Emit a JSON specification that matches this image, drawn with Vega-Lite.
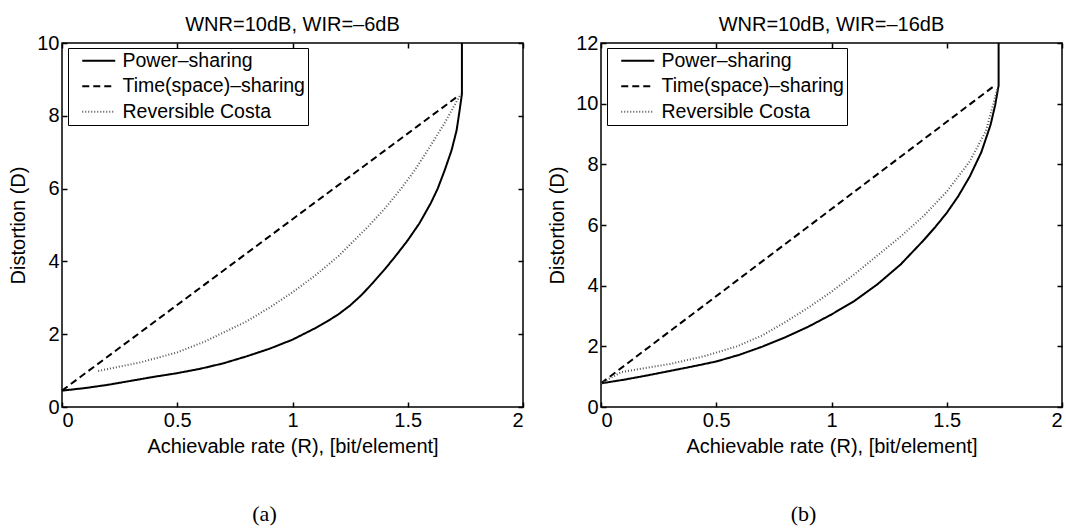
{
  "$schema": "https://vega.github.io/schema/vega-lite/v6.json",
  "background": "white",
  "padding": {"left": 8, "top": 14, "right": 4, "bottom": 4},
  "datasets": {
    "a": [
      {"s": "Power–sharing", "i": 0, "R": 0, "D": 0.45},
      {"s": "Power–sharing", "i": 1, "R": 0.1, "D": 0.52},
      {"s": "Power–sharing", "i": 2, "R": 0.2, "D": 0.61},
      {"s": "Power–sharing", "i": 3, "R": 0.3, "D": 0.72},
      {"s": "Power–sharing", "i": 4, "R": 0.4, "D": 0.83},
      {"s": "Power–sharing", "i": 5, "R": 0.5, "D": 0.93},
      {"s": "Power–sharing", "i": 6, "R": 0.6, "D": 1.05},
      {"s": "Power–sharing", "i": 7, "R": 0.7, "D": 1.2},
      {"s": "Power–sharing", "i": 8, "R": 0.8, "D": 1.39},
      {"s": "Power–sharing", "i": 9, "R": 0.9, "D": 1.6},
      {"s": "Power–sharing", "i": 10, "R": 1.0, "D": 1.85},
      {"s": "Power–sharing", "i": 11, "R": 1.1, "D": 2.17},
      {"s": "Power–sharing", "i": 12, "R": 1.15, "D": 2.35},
      {"s": "Power–sharing", "i": 13, "R": 1.2, "D": 2.55},
      {"s": "Power–sharing", "i": 14, "R": 1.25, "D": 2.79},
      {"s": "Power–sharing", "i": 15, "R": 1.3, "D": 3.08},
      {"s": "Power–sharing", "i": 16, "R": 1.35, "D": 3.42},
      {"s": "Power–sharing", "i": 17, "R": 1.4, "D": 3.78},
      {"s": "Power–sharing", "i": 18, "R": 1.45, "D": 4.17},
      {"s": "Power–sharing", "i": 19, "R": 1.5, "D": 4.58},
      {"s": "Power–sharing", "i": 20, "R": 1.55, "D": 5.04},
      {"s": "Power–sharing", "i": 21, "R": 1.6, "D": 5.6},
      {"s": "Power–sharing", "i": 22, "R": 1.63, "D": 6.0},
      {"s": "Power–sharing", "i": 23, "R": 1.66, "D": 6.5},
      {"s": "Power–sharing", "i": 24, "R": 1.69, "D": 7.05},
      {"s": "Power–sharing", "i": 25, "R": 1.712, "D": 7.6},
      {"s": "Power–sharing", "i": 26, "R": 1.725, "D": 8.15},
      {"s": "Power–sharing", "i": 27, "R": 1.735, "D": 8.6},
      {"s": "Power–sharing", "i": 28, "R": 1.735, "D": 10},
      {"s": "Time(space)–sharing", "i": 0, "R": 0, "D": 0.45},
      {"s": "Time(space)–sharing", "i": 1, "R": 1.72, "D": 8.55},
      {"s": "Reversible Costa", "i": 0, "R": 0.157, "D": 0.99},
      {"s": "Reversible Costa", "i": 1, "R": 0.343, "D": 1.23},
      {"s": "Reversible Costa", "i": 2, "R": 0.5, "D": 1.5},
      {"s": "Reversible Costa", "i": 3, "R": 0.62, "D": 1.8},
      {"s": "Reversible Costa", "i": 4, "R": 0.8, "D": 2.35},
      {"s": "Reversible Costa", "i": 5, "R": 0.9, "D": 2.73},
      {"s": "Reversible Costa", "i": 6, "R": 1.0, "D": 3.15},
      {"s": "Reversible Costa", "i": 7, "R": 1.1, "D": 3.62},
      {"s": "Reversible Costa", "i": 8, "R": 1.2, "D": 4.15},
      {"s": "Reversible Costa", "i": 9, "R": 1.33, "D": 4.97},
      {"s": "Reversible Costa", "i": 10, "R": 1.4, "D": 5.45},
      {"s": "Reversible Costa", "i": 11, "R": 1.47, "D": 5.99},
      {"s": "Reversible Costa", "i": 12, "R": 1.53, "D": 6.5},
      {"s": "Reversible Costa", "i": 13, "R": 1.59, "D": 7.09},
      {"s": "Reversible Costa", "i": 14, "R": 1.66, "D": 7.8},
      {"s": "Reversible Costa", "i": 15, "R": 1.73, "D": 8.6}
    ],
    "b": [
      {"s": "Power–sharing", "i": 0, "R": 0, "D": 0.78},
      {"s": "Power–sharing", "i": 1, "R": 0.1, "D": 0.9},
      {"s": "Power–sharing", "i": 2, "R": 0.2, "D": 1.04},
      {"s": "Power–sharing", "i": 3, "R": 0.3, "D": 1.19},
      {"s": "Power–sharing", "i": 4, "R": 0.4, "D": 1.34},
      {"s": "Power–sharing", "i": 5, "R": 0.5, "D": 1.5},
      {"s": "Power–sharing", "i": 6, "R": 0.6, "D": 1.72},
      {"s": "Power–sharing", "i": 7, "R": 0.7, "D": 1.99},
      {"s": "Power–sharing", "i": 8, "R": 0.8, "D": 2.3},
      {"s": "Power–sharing", "i": 9, "R": 0.9, "D": 2.65},
      {"s": "Power–sharing", "i": 10, "R": 1.0, "D": 3.05},
      {"s": "Power–sharing", "i": 11, "R": 1.1, "D": 3.5},
      {"s": "Power–sharing", "i": 12, "R": 1.2, "D": 4.05},
      {"s": "Power–sharing", "i": 13, "R": 1.3, "D": 4.7},
      {"s": "Power–sharing", "i": 14, "R": 1.4, "D": 5.5},
      {"s": "Power–sharing", "i": 15, "R": 1.45, "D": 5.93},
      {"s": "Power–sharing", "i": 16, "R": 1.5, "D": 6.4},
      {"s": "Power–sharing", "i": 17, "R": 1.55, "D": 6.95},
      {"s": "Power–sharing", "i": 18, "R": 1.6, "D": 7.6},
      {"s": "Power–sharing", "i": 19, "R": 1.65, "D": 8.4},
      {"s": "Power–sharing", "i": 20, "R": 1.69, "D": 9.3},
      {"s": "Power–sharing", "i": 21, "R": 1.71, "D": 9.95},
      {"s": "Power–sharing", "i": 22, "R": 1.725, "D": 10.6},
      {"s": "Power–sharing", "i": 23, "R": 1.725, "D": 12},
      {"s": "Time(space)–sharing", "i": 0, "R": 0, "D": 0.78},
      {"s": "Time(space)–sharing", "i": 1, "R": 1.705, "D": 10.58},
      {"s": "Reversible Costa", "i": 0, "R": 0, "D": 0.78},
      {"s": "Reversible Costa", "i": 1, "R": 0.087, "D": 1.15},
      {"s": "Reversible Costa", "i": 2, "R": 0.3, "D": 1.42},
      {"s": "Reversible Costa", "i": 3, "R": 0.45, "D": 1.68},
      {"s": "Reversible Costa", "i": 4, "R": 0.59, "D": 2.0},
      {"s": "Reversible Costa", "i": 5, "R": 0.7, "D": 2.36},
      {"s": "Reversible Costa", "i": 6, "R": 0.8, "D": 2.8},
      {"s": "Reversible Costa", "i": 7, "R": 0.9, "D": 3.28},
      {"s": "Reversible Costa", "i": 8, "R": 1.0, "D": 3.8},
      {"s": "Reversible Costa", "i": 9, "R": 1.1, "D": 4.38},
      {"s": "Reversible Costa", "i": 10, "R": 1.2, "D": 5.0},
      {"s": "Reversible Costa", "i": 11, "R": 1.3, "D": 5.62},
      {"s": "Reversible Costa", "i": 12, "R": 1.4, "D": 6.3},
      {"s": "Reversible Costa", "i": 13, "R": 1.5, "D": 7.1},
      {"s": "Reversible Costa", "i": 14, "R": 1.6, "D": 8.1},
      {"s": "Reversible Costa", "i": 15, "R": 1.67, "D": 9.1},
      {"s": "Reversible Costa", "i": 16, "R": 1.72, "D": 10.5}
    ]
  },
  "config": {
    "font": "Liberation Sans",
    "view": {"stroke": "black", "strokeWidth": 1.5},
    "axis": {
      "grid": false,
      "domain": false,
      "tickColor": "black",
      "tickWidth": 1.5,
      "tickSize": -5,
      "labelPadding": 8,
      "labelFont": "Liberation Sans",
      "labelFontSize": 20,
      "labelColor": "black",
      "titleFont": "Liberation Sans",
      "titleFontSize": 20,
      "titleFontWeight": "normal",
      "titleColor": "black"
    },
    "legend": {
      "orient": "none",
      "legendX": 6,
      "legendY": 5,
      "title": null,
      "symbolType": "M-3.3,0H3.3",
      "symbolSize": 100,
      "labelFont": "Liberation Sans",
      "labelFontSize": 19.5,
      "labelColor": "black",
      "labelLimit": 400,
      "strokeColor": "black",
      "fillColor": "white",
      "padding": 3,
      "rowPadding": 4.5,
      "symbolOffset": 18,
      "labelOffset": 14
    },
    "title": {"font": "Liberation Sans", "fontSize": 20, "fontWeight": "normal", "color": "black", "anchor": "middle", "offset": -2}
  },
  "bounds": "flush",
  "spacing": 78,
  "resolve": {
    "scale": {"strokeDash": "independent", "stroke": "independent", "strokeWidth": "independent"},
    "legend": {"strokeDash": "independent", "stroke": "independent", "strokeWidth": "independent"}
  },
  "hconcat": [
    {
      "width": 461,
      "height": 364,
      "title": "WNR=10dB, WIR=–6dB",
      "data": {"name": "a"},
      "layer": [
        {
          "mark": {"type": "line", "strokeCap": "butt"},
          "encoding": {
            "x": {"field": "R", "type": "quantitative", "scale": {"domain": [0, 2], "nice": false},
                  "axis": {"orient": "bottom", "values": [0, 0.5, 1, 1.5, 2], "format": "~r", "title": "Achievable rate (R), [bit/element]", "titlePadding": 6}},
            "y": {"field": "D", "type": "quantitative", "scale": {"domain": [0, 10], "nice": false},
                  "axis": {"orient": "left", "values": [0, 2, 4, 6, 8, 10], "format": "~r", "title": "Distortion (D)", "titlePadding": 8}},
            "order": {"field": "i", "type": "quantitative"},
            "strokeDash": {"field": "s", "type": "nominal",
                           "scale": {"domain": ["Power–sharing", "Time(space)–sharing", "Reversible Costa"], "range": [[1, 0], [7, 4], [1, 2]]}},
            "stroke": {"field": "s", "type": "nominal",
                       "scale": {"domain": ["Power–sharing", "Time(space)–sharing", "Reversible Costa"], "range": ["#000000", "#000000", "#555555"]}},
            "strokeWidth": {"field": "s", "type": "ordinal",
                            "scale": {"domain": ["Power–sharing", "Time(space)–sharing", "Reversible Costa"], "range": [2, 2, 1.2]}}
          }
        },
        {
          "mark": {"type": "line", "opacity": 0},
          "encoding": {
            "x": {"field": "R", "type": "quantitative", "axis": {"orient": "top", "values": [0, 0.5, 1, 1.5, 2], "labels": false, "title": null}},
            "y": {"field": "D", "type": "quantitative", "axis": {"orient": "right", "values": [0, 2, 4, 6, 8, 10], "labels": false, "title": null}}
          }
        },
        {
          "mark": {"type": "line", "opacity": 0},
          "encoding": {
            "x": {"field": "R", "type": "quantitative", "axis": {"orient": "bottom", "labels": false, "ticks": false, "title": "(a)", "titleFont": "Liberation Serif", "titleFontSize": 22, "titlePadding": 96, "titleX": 202}}
          }
        }
      ],
      "resolve": {"axis": {"x": "independent", "y": "independent"}}
    },
    {
      "width": 461,
      "height": 364,
      "title": "WNR=10dB, WIR=–16dB",
      "data": {"name": "b"},
      "layer": [
        {
          "mark": {"type": "line", "strokeCap": "butt"},
          "encoding": {
            "x": {"field": "R", "type": "quantitative", "scale": {"domain": [0, 2], "nice": false},
                  "axis": {"orient": "bottom", "values": [0, 0.5, 1, 1.5, 2], "format": "~r", "title": "Achievable rate (R), [bit/element]", "titlePadding": 6}},
            "y": {"field": "D", "type": "quantitative", "scale": {"domain": [0, 12], "nice": false},
                  "axis": {"orient": "left", "values": [0, 2, 4, 6, 8, 10, 12], "format": "~r", "title": "Distortion (D)", "titlePadding": 8}},
            "order": {"field": "i", "type": "quantitative"},
            "strokeDash": {"field": "s", "type": "nominal",
                           "scale": {"domain": ["Power–sharing", "Time(space)–sharing", "Reversible Costa"], "range": [[1, 0], [7, 4], [1, 2]]}},
            "stroke": {"field": "s", "type": "nominal",
                       "scale": {"domain": ["Power–sharing", "Time(space)–sharing", "Reversible Costa"], "range": ["#000000", "#000000", "#555555"]}},
            "strokeWidth": {"field": "s", "type": "ordinal",
                            "scale": {"domain": ["Power–sharing", "Time(space)–sharing", "Reversible Costa"], "range": [2, 2, 1.2]}}
          }
        },
        {
          "mark": {"type": "line", "opacity": 0},
          "encoding": {
            "x": {"field": "R", "type": "quantitative", "axis": {"orient": "top", "values": [0, 0.5, 1, 1.5, 2], "labels": false, "title": null}},
            "y": {"field": "D", "type": "quantitative", "axis": {"orient": "right", "values": [0, 2, 4, 6, 8, 10, 12], "labels": false, "title": null}}
          }
        },
        {
          "mark": {"type": "line", "opacity": 0},
          "encoding": {
            "x": {"field": "R", "type": "quantitative", "axis": {"orient": "bottom", "labels": false, "ticks": false, "title": "(b)", "titleFont": "Liberation Serif", "titleFontSize": 22, "titlePadding": 96, "titleX": 202}}
          }
        }
      ],
      "resolve": {"axis": {"x": "independent", "y": "independent"}}
    }
  ]
}
